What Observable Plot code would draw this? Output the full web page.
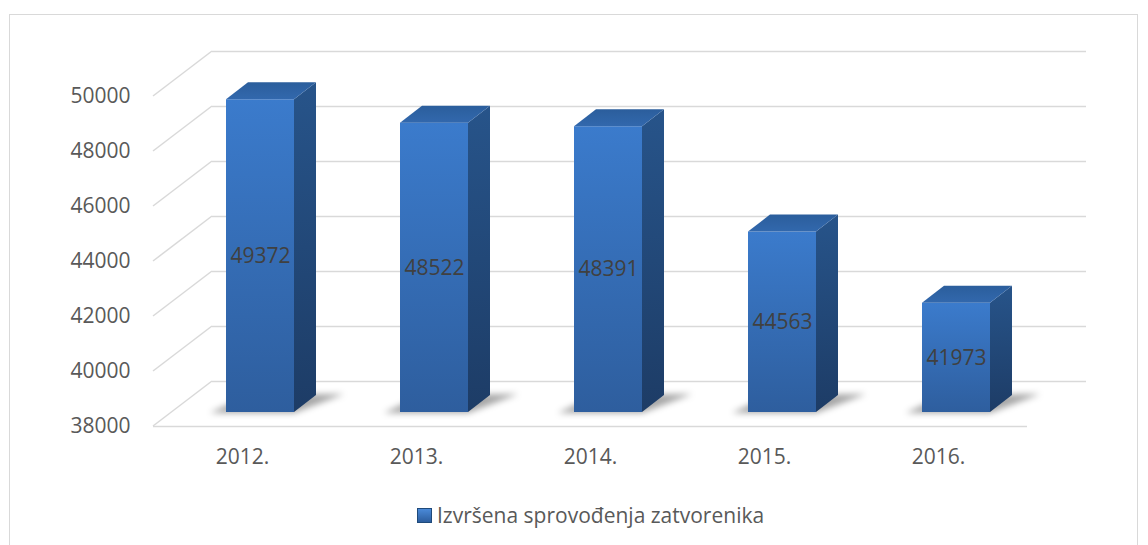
<!DOCTYPE html>
<html><head><meta charset="utf-8">
<script src="https://cdn.jsdelivr.net/npm/d3@7"></script>
<script src="https://cdn.jsdelivr.net/npm/@observablehq/plot@0.6"></script>
<style>
body{margin:0;background:#fff;font-family:"Open Sans",sans-serif;}
#wrap{position:relative;width:1148px;height:545px;overflow:hidden;}
#frame{position:absolute;left:9px;top:14px;width:1129px;height:600px;border:1px solid #d9d9d9;box-sizing:border-box;}
#chart{position:absolute;left:0;top:0;}
#legend{position:absolute;left:417px;top:500px;height:30px;display:flex;align-items:center;font-size:21px;color:#595959;white-space:nowrap;}
#legend .sw{width:13px;height:13px;margin-right:5px;border:1px solid #1f4a7a;background:linear-gradient(#4a8ad8,#2c5d9e);}
</style>
</head><body>
<div id="wrap"><div id="frame"></div><div id="chart"></div><div id="legend"><span class="sw"></span><span id="legtext"></span></div></div>
<script>
const years = ["2012.", "2013.", "2014.", "2015.", "2016."];
const values = [49372, 48522, 48391, 44563, 41973];
const yTicks = [38000, 40000, 42000, 44000, 46000, 48000, 50000];
const seriesName = "Izvršena sprovođenja zatvorenika";

const base = yTicks[0];
const data = years.map((year, i) => ({year, value: values[i]}));

// 3D offsets (pixels)
const FRONT = [18, -14], DEPTH = [22, -17], WALL = [59, -45];

function bw(x) { return typeof x.bandwidth === "function" ? x.bandwidth() : x.bandwidth; }

function defsMark() {
  const defs = d3.create("svg:defs");
  const grad = (id, stops, x2 = 0, y2 = 1) => {
    const g = defs.append("linearGradient").attr("id", id).attr("x1", 0).attr("y1", 0).attr("x2", x2).attr("y2", y2);
    stops.forEach(([o, c]) => g.append("stop").attr("offset", o).attr("stop-color", c));
  };
  grad("front", [[0, "#3b7bcc"], [1, "#2e5e9e"]]);
  grad("side", [[0, "#27548a"], [1, "#1d3c66"]]);
  grad("top", [[0, "#2b5e9c"], [1, "#3268ad"]]);
  defs.append("filter").attr("id", "blur").attr("x", "-50%").attr("y", "-50%").attr("width", "200%").attr("height", "200%")
    .append("feGaussianBlur").attr("stdDeviation", 3);
  return defs.node();
}

function wallDiagonals(index, {y}) {
  const g = d3.create("svg:g").attr("stroke", "#d9d9d9").attr("stroke-width", 1.5);
  const x0 = 153;
  yTicks.forEach(v => {
    g.append("line").attr("x1", x0).attr("y1", y(v)).attr("x2", x0 + WALL[0]).attr("y2", y(v) + WALL[1]);
  });
  return g.node();
}

function shadows(index, {x, y}) {
  const g = d3.create("svg:g").attr("filter", "url(#blur)").attr("fill", "#000").attr("fill-opacity", 0.35);
  const w = bw(x);
  data.forEach(d => {
    const xl = x(d.year) + FRONT[0], xr = xl + w, yb = y(base) + FRONT[1];
    g.append("path").attr("d",
      `M${xl - 16},${yb + 1}L${xr},${yb + 1}L${xr + DEPTH[0] + 28},${yb + DEPTH[1] - 1}L${xl + DEPTH[0]},${yb + DEPTH[1]}Z`);
  });
  return g.node();
}

function sideTop(index, {x, y}) {
  const g = d3.create("svg:g");
  const w = bw(x);
  data.forEach(d => {
    const xl = x(d.year) + FRONT[0], xr = xl + w;
    const yt = y(d.value) + FRONT[1], yb = y(base) + FRONT[1];
    g.append("path").attr("fill", "url(#side)")
      .attr("d", `M${xr},${yt}L${xr + DEPTH[0]},${yt + DEPTH[1]}L${xr + DEPTH[0]},${yb + DEPTH[1]}L${xr},${yb}Z`);
    g.append("path").attr("fill", "url(#top)")
      .attr("d", `M${xl},${yt}L${xl + DEPTH[0]},${yt + DEPTH[1]}L${xr + DEPTH[0]},${yt + DEPTH[1]}L${xr},${yt}Z`);
  });
  return g.node();
}

const chart = Plot.plot({
  width: 1148, height: 490,
  marginLeft: 153, marginRight: 121, marginTop: 96, marginBottom: 64,
  x: {domain: years, paddingInner: 0.61, paddingOuter: 0.305, label: null, tickSize: 0, tickPadding: 23},
  y: {domain: [yTicks[0], yTicks[yTicks.length - 1]], ticks: yTicks, label: null, tickSize: 0, tickPadding: 23, tickFormat: d => String(d)},
  style: {fontFamily: "Open Sans", fontSize: "21px", color: "#595959", background: "transparent", overflow: "visible"},
  marks: [
    defsMark,
    Plot.ruleY(yTicks, {stroke: "#d9d9d9", strokeWidth: 1.5, dx: WALL[0], dy: WALL[1]}),
    wallDiagonals,
    Plot.ruleY([base], {stroke: "#d9d9d9", strokeWidth: 1.5}),
    shadows,
    Plot.barY(data, {x: "year", y1: base, y2: "value", dx: FRONT[0], dy: FRONT[1], fill: "url(#front)"}),
    sideTop,
    Plot.text(data, {x: "year", y: d => (base + d.value) / 2, text: d => String(d.value), dx: FRONT[0], dy: FRONT[1], fill: "#404040", fontSize: 21})
  ]
});
document.getElementById("chart").appendChild(chart);
document.getElementById("legtext").textContent = seriesName;
</script>
</body></html>
